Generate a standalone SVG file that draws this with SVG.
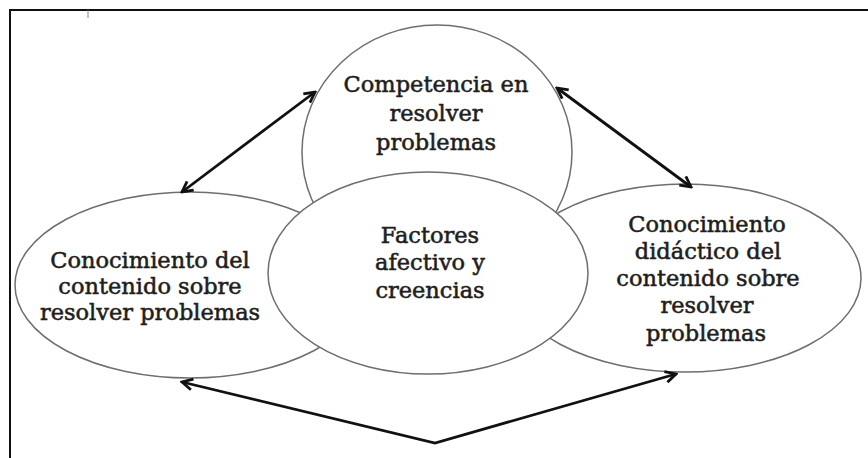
<svg xmlns="http://www.w3.org/2000/svg" width="868" height="458" viewBox="0 0 868 458">
<style>
.node ellipse{fill:#fff;stroke:#6e6e6e;stroke-width:1.5}
.node text{font-family:"DejaVu Serif","Liberation Serif",serif;font-size:22.5px;fill:#1e1e1e;stroke:#1e1e1e;stroke-width:0.55;text-anchor:middle}
.conn{fill:none;stroke:#111;stroke-width:2.8;stroke-linejoin:miter}
</style>
<defs>
<marker id="ah" viewBox="0 0 14 14" refX="12" refY="7" markerWidth="14" markerHeight="14" markerUnits="userSpaceOnUse" orient="auto-start-reverse">
<path d="M1.5,1.5 L12,7 L1.5,12.5" fill="none" stroke="#111" stroke-width="2.8"/>
</marker>
</defs>
<rect width="868" height="458" fill="#fff"/>
<path d="M10,458 V10 H868" fill="none" stroke="#111" stroke-width="2"/>
<line x1="88" y1="10" x2="88" y2="18" stroke="#888" stroke-width="1"/>
<g id="competencia" class="node">
<ellipse cx="437" cy="152" rx="135" ry="127"/>
<text x="436" y="92">Competencia en</text>
<text x="436" y="121">resolver</text>
<text x="436" y="150">problemas</text>
</g>
<g id="conocimiento-contenido" class="node">
<ellipse cx="190" cy="285" rx="175" ry="93"/>
<text x="150" y="268">Conocimiento del</text>
<text x="150" y="294">contenido sobre</text>
<text x="150" y="320">resolver problemas</text>
</g>
<g id="conocimiento-didactico" class="node">
<ellipse cx="685" cy="278" rx="176" ry="94"/>
<text x="707" y="232">Conocimiento</text>
<text x="708" y="259">didáctico del</text>
<text x="708" y="286">contenido sobre</text>
<text x="707" y="313">resolver</text>
<text x="706" y="341">problemas</text>
</g>
<g id="factores" class="node">
<ellipse cx="428" cy="273" rx="160" ry="101"/>
<text x="430" y="243">Factores</text>
<text x="430" y="270">afectivo y</text>
<text x="430" y="298">creencias</text>
</g>
<g id="connectors">
<line class="conn" x1="182" y1="192" x2="315" y2="92" marker-start="url(#ah)" marker-end="url(#ah)"/>
<line class="conn" x1="557" y1="88" x2="691" y2="187" marker-start="url(#ah)" marker-end="url(#ah)"/>
<polyline class="conn" points="182,382 435,443 676,374" marker-start="url(#ah)" marker-end="url(#ah)"/>
</g>
</svg>
